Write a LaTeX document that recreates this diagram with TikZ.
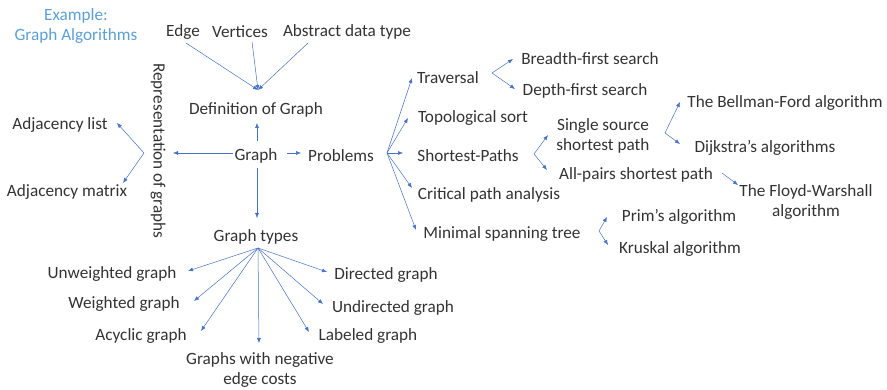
\documentclass[tikz,border=0pt]{standalone}
\usepackage{fontspec}
\setmainfont{Carlito}
\usetikzlibrary{arrows.meta}
\definecolor{linkblue}{RGB}{68,114,196}
\definecolor{titleblue}{RGB}{91,160,215}
\tikzset{
  lbl/.style={font=\fontsize{17.2}{20}\selectfont, text=black!80, inner sep=0pt, align=center, yshift=-2pt},
  arr/.style={draw=linkblue, line width=0.5pt, -{Latex[length=5pt,width=4pt]}}
}
\begin{document}
\begin{tikzpicture}[x=1pt,y=-1pt]
\useasboundingbox (0,0) rectangle (887,390);
% title
\node[lbl, text=titleblue] (ex) at (76,24) {Example:\\Graph Algorithms};
% definition part
\node[lbl] (edge) at (183,30) {Edge};
\node[lbl] (vert) at (240,30) {Vertices};
\node[lbl] (adt) at (347,30) {Abstract data type};
\node[lbl] (def) at (256,108) {Definition of Graph};
\node[lbl] (graph) at (256,154) {Graph};
\node[lbl] (prob) at (341,154) {Problems};
\node[lbl] (gtypes) at (256,235) {Graph types};
\node[lbl, yshift=2pt, rotate=-90] (rep) at (158,151) {Representation of graphs};
\node[lbl] (adjl) at (60,123) {Adjacency list};
\node[lbl] (adjm) at (67,190) {Adjacency matrix};
% graph types
\node[lbl] (unw) at (112,272) {Unweighted graph};
\node[lbl] (wei) at (124,302) {Weighted graph};
\node[lbl] (acy) at (141,334) {Acyclic graph};
\node[lbl] (neg) at (260,368) {Graphs with negative\\edge costs};
\node[lbl] (lab) at (368,334) {Labeled graph};
\node[lbl] (und) at (393,306) {Undirected graph};
\node[lbl] (dir) at (386,273) {Directed graph};
% problems
\node[lbl] (trav) at (448,76) {Traversal};
\node[lbl] (topo) at (473,116) {Topological sort};
\node[lbl] (sp) at (468,154) {Shortest-Paths};
\node[lbl] (crit) at (489,193) {Critical path analysis};
\node[lbl] (mst) at (502,232) {Minimal spanning tree};
\node[lbl] (bfs) at (590,57) {Breadth-first search};
\node[lbl] (dfs) at (585,89) {Depth-first search};
\node[lbl] (ss) at (603,134) {Single source\\shortest path};
\node[lbl] (ap) at (636,173) {All-pairs shortest path};
\node[lbl] (bf) at (785,101) {The Bellman-Ford algorithm};
\node[lbl] (dij) at (765,146) {Dijkstra’s algorithms};
\node[lbl] (fw) at (806,200) {The Floyd-Warshall\\algorithm};
\node[lbl] (prim) at (679,215) {Prim’s algorithm};
\node[lbl] (krus) at (680,247) {Kruskal algorithm};
% connector points
\coordinate (dtop) at (258,90);
\coordinate (edgeS) at (186,43);
\coordinate (vertS) at (252,42);
\coordinate (adtS) at (308,43);
\coordinate (gN) at (257,141);
\coordinate (dS) at (257,123);
\coordinate (gW) at (233,153);
\coordinate (repE) at (173,153);
\coordinate (repW) at (144,153);
\coordinate (adjlT) at (117,123);
\coordinate (adjmT) at (123,183);
\coordinate (gE) at (287,153);
\coordinate (probW) at (301,153);
\coordinate (gS) at (257,168);
\coordinate (gtN) at (257,218);
\coordinate (gtS) at (258,248);
\coordinate (unwT) at (188,271);
\coordinate (weiT) at (194,301);
\coordinate (acyT) at (201,331);
\coordinate (negT) at (259,343);
\coordinate (labT) at (309,332);
\coordinate (undT) at (323,304);
\coordinate (dirT) at (327,272);
\coordinate (probE) at (387,153);
\coordinate (travT) at (412,78);
\coordinate (topoT) at (408,118);
\coordinate (spT) at (403,153);
\coordinate (critT) at (412,188);
\coordinate (mstT) at (416,230);
\coordinate (travE) at (492,73);
\coordinate (bfsT) at (513,59);
\coordinate (dfsT) at (515,89);
\coordinate (spE) at (534,154);
\coordinate (ssT) at (548,135);
\coordinate (apT) at (547,170);
\coordinate (ssE) at (665,133);
\coordinate (bfT) at (680,102);
\coordinate (dijT) at (680,144);
\coordinate (apE) at (722,173);
\coordinate (fwT) at (738,185);
\coordinate (mstE) at (599,231);
\coordinate (primT) at (607,217);
\coordinate (krusT) at (608,245);
% connectors
\draw[arr] (edgeS) -- (dtop);
\draw[arr] (vertS) -- (dtop);
\draw[arr] (adtS) -- (dtop);
\draw[arr] (gN) -- (dS);
\draw[arr] (gW) -- (repE);
\draw[arr] (repW) -- (adjlT);
\draw[arr] (repW) -- (adjmT);
\draw[arr] (gE) -- (probW);
\draw[arr] (gS) -- (gtN);
\foreach \t in {unwT,weiT,acyT,negT,labT,undT,dirT} \draw[arr] (gtS) -- (\t);
\foreach \t in {travT,topoT,spT,critT,mstT} \draw[arr] (probE) -- (\t);
\draw[arr] (travE) -- (bfsT);
\draw[arr] (travE) -- (dfsT);
\draw[arr] (spE) -- (ssT);
\draw[arr] (spE) -- (apT);
\draw[arr] (ssE) -- (bfT);
\draw[arr] (ssE) -- (dijT);
\draw[arr] (apE) -- (fwT);
\draw[arr] (mstE) -- (primT);
\draw[arr] (mstE) -- (krusT);
\end{tikzpicture}
\end{document}
